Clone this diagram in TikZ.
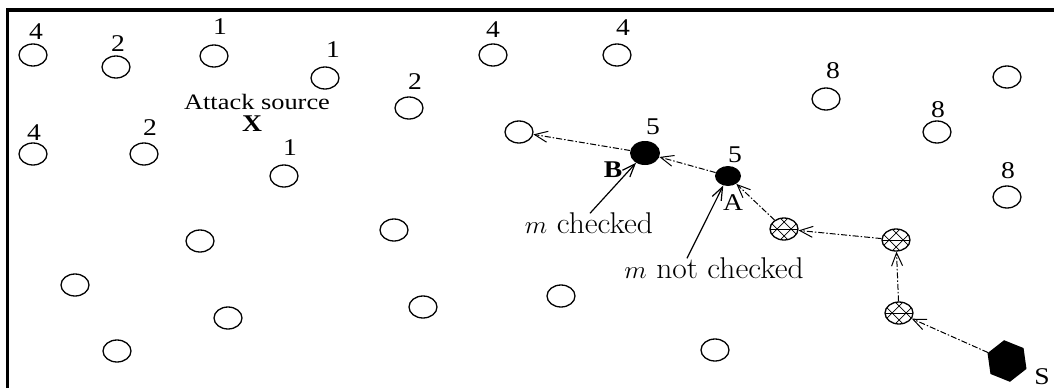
\documentclass[tikz,border=0pt]{standalone}
\usepackage{fontspec}
\newfontfamily\tms{Liberation Serif}
\usetikzlibrary{shapes.geometric,arrows.meta}
\tikzset{
  plain/.style={draw, ellipse, line width=1.3pt, minimum width=28pt, minimum height=22pt, inner sep=0pt},
  solid node/.style={ellipse, fill=black, minimum width=30pt, minimum height=24pt, inner sep=0pt},
  small solid/.style={ellipse, fill=black, minimum width=26pt, minimum height=20pt, inner sep=0pt},
  hatched/.style={plain, path picture={
      \foreach \o in {-7,7}{
        \draw[line width=0.7pt] ([xshift=\o pt]path picture bounding box.center) ++(-14pt,-14pt) -- ++(28pt,28pt);
        \draw[line width=0.7pt] ([xshift=\o pt]path picture bounding box.center) ++(-14pt,14pt) -- ++(28pt,-28pt);
      }
      \draw[line width=0.6pt] ([xshift=-14pt]path picture bounding box.center) -- ++(28pt,0);}},
  src/.style={regular polygon, regular polygon sides=6, shape border rotate=30, fill=black, minimum size=42pt, inner sep=0pt, rotate=8},
  num/.style={font=\tms\fontsize{24}{24}\selectfont, xscale=1.15, transform shape, inner sep=0pt},
  atxt/.style={font=\tms\fontsize{22}{22}\selectfont, xscale=1.2, transform shape, inner sep=0pt},
  bnum/.style={num, font=\tms\bfseries\fontsize{24}{24}\selectfont},
  cmtxt/.style={font=\fontsize{30}{30}\selectfont, xscale=1.05, transform shape, inner sep=0pt},
  hop/.style={line width=1pt, dash pattern=on 6pt off 2pt on 1.5pt off 2pt, -{Straight Barb[length=13pt,width=11pt]}},
  ptr/.style={line width=1.2pt, -{Straight Barb[length=13pt,width=10pt]}},
  frame/.style={line width=3.5pt}
}
\begin{document}
\begin{tikzpicture}[x=1pt,y=-1pt]
\useasboundingbox (0,0) rectangle (1054,388);
% frame
\coordinate (fbl) at (7.5,388);
\coordinate (ftl) at (7.5,10);
\coordinate (ftr) at (1054,10);
\draw[frame] (fbl) -- (ftl) -- (ftr);
% open nodes with labels
\node[plain] (n1) at (33,55) {};   \node[num] (l1) at (36,32) {4};
\node[plain] (n2) at (116,67) {};  \node[num] (l2) at (118,44) {2};
\node[plain] (n3) at (214,56) {};  \node[num] (l3) at (220,27) {1};
\node[plain] (n4) at (325,78) {};  \node[num] (l4) at (333,50) {1};
\node[plain] (n5) at (409,108) {}; \node[num] (l5) at (415,82) {2};
\node[plain] (n6) at (493,55) {};  \node[num] (l6) at (493,30) {4};
\node[plain] (n7) at (617,55) {};  \node[num] (l7) at (623,28) {4};
\node[plain] (n8) at (826,99) {};  \node[num] (l8) at (833,71) {8};
\node[plain] (n9) at (1007,77) {};
\node[plain] (n10) at (937,132) {}; \node[num] (l10) at (938,110) {8};
\node[plain] (n11) at (1007,197) {}; \node[num] (l11) at (1008,171) {8};
\node[plain] (n12) at (33,154) {};  \node[num] (l12) at (34,133) {4};
\node[plain] (n13) at (144,154) {}; \node[num] (l13) at (150,128) {2};
\node[plain] (n14) at (284,176) {}; \node[num] (l14) at (290,148) {1};
\node[plain] (n15) at (519,132) {};
\node[plain] (n16) at (200,241) {};
\node[plain] (n17) at (75,285) {};
\node[plain] (n18) at (228,318) {};
\node[plain] (n19) at (394,230) {};
\node[plain] (n20) at (423,307) {};
\node[plain] (n21) at (561,296) {};
\node[plain] (n22) at (715,350) {};
\node[plain] (n23) at (117,351) {};
% attack source
\node[atxt] (atk) at (257,102) {Attack source};
\node[bnum] (x) at (252,124) {X};
% checked nodes
\node[solid node] (B) at (645,153) {};
\node[num] (lB) at (653,127) {5};
\node[bnum] (tB) at (613,170) {B};
\node[small solid] (A) at (728,176) {};
\node[num] (lA) at (735,155) {5};
\node[num] (tA) at (733,203) {A};
% hatched path nodes
\node[hatched] (h1) at (784,229) {};
\node[hatched] (h2) at (896,240) {};
\node[hatched] (h3) at (899,313) {};
% source
\node[src] (S) at (1007,361) {};
\node[num] (tS) at (1042,377) {S};
% path
\draw[hop] (S) -- (h3);
\draw[hop] (h3) -- (h2);
\draw[hop] (h2) -- (h1);
\draw[hop] (h1) -- (A);
\draw[hop] (A) -- (B);
\draw[hop] (B) -- (n15);
% annotations
\node[cmtxt] (mc) at (589,223) {$m$ checked};
\node[cmtxt] (mnc) at (714,268) {$m$ not checked};
\draw[ptr] ([xshift=1pt,yshift=-1pt]mc.north) -- (B);
\draw[ptr] ([xshift=-27pt,yshift=-1pt]mnc.north) -- (A);
\end{tikzpicture}
\end{document}
